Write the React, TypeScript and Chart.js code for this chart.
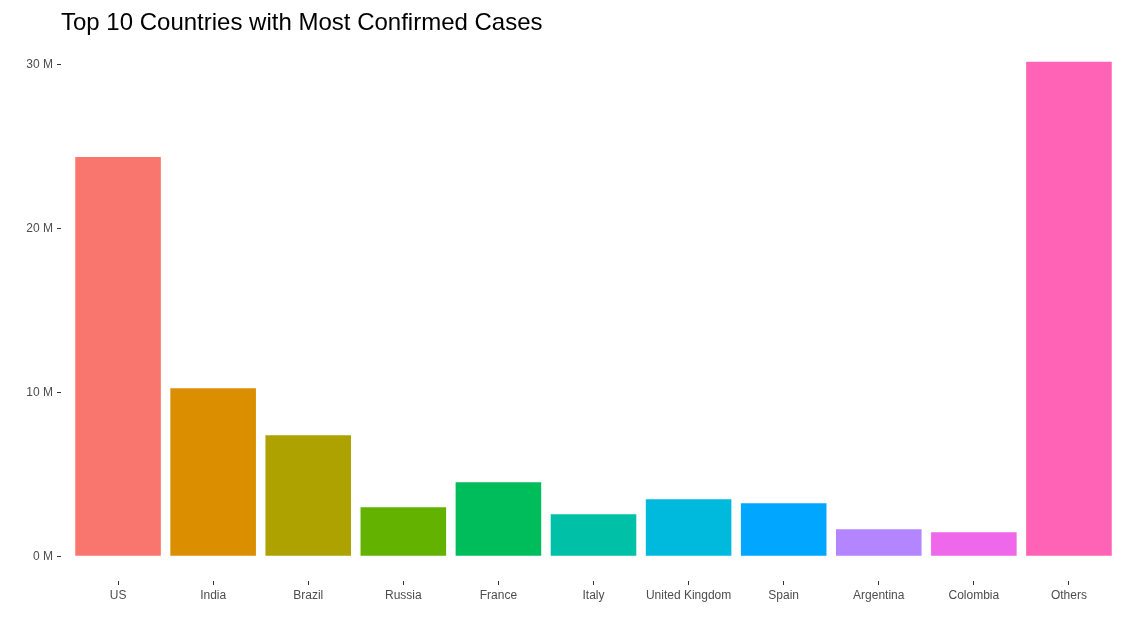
import React, { useEffect, useRef } from "react";
import { Chart, registerables } from "chart.js";

Chart.register(...registerables);

const categories = ["US", "India", "Brazil", "Russia", "France", "Italy", "United Kingdom", "Spain", "Argentina", "Colombia", "Others"];
const confirmed = [24370000, 10260000, 7390000, 2990000, 4520000, 2570000, 3480000, 3240000, 1650000, 1470000, 30180000];
const barColors = ["#F8766D", "#DB8E00", "#AEA200", "#64B200", "#00BD5C", "#00C1A7", "#00BADE", "#00A6FF", "#B385FF", "#EF67EB", "#FF63B6"];
const yTickValues = [0, 10000000, 20000000, 30000000];
const titleText = "Top 10 Countries with Most Confirmed Cases";

export default function App() {
  const ref = useRef<HTMLCanvasElement>(null);

  useEffect(() => {
    if (!ref.current) return;
    const dataMax = Math.max(...confirmed);
    const chart = new Chart(ref.current, {
      type: "bar",
      data: {
        datasets: [
          {
            data: confirmed.map((v, i) => ({ x: i, y: v })),
            backgroundColor: barColors,
            borderWidth: 0,
            categoryPercentage: 1,
            barPercentage: 0.9,
          },
        ],
      },
      options: {
        animation: false,
        responsive: false,
        devicePixelRatio: 1,
        layout: { padding: { top: 37, right: 8, left: 0, bottom: 0 } },
        plugins: { legend: { display: false }, tooltip: { enabled: false }, title: { display: false } },
        scales: {
          x: {
            type: "linear",
            offset: false,
            min: -0.6,
            max: categories.length - 1 + 0.6,
            afterBuildTicks: (scale: any) => {
              scale.ticks = categories.map((_, i) => ({ value: i }));
            },
            afterFit: (scale: any) => {
              scale.height = 47;
            },
            grid: { display: true, offset: false, drawOnChartArea: false, drawTicks: true, tickLength: 4, tickColor: "#333333", tickWidth: 1 },
            border: { display: false },
            ticks: {
              autoSkip: false,
              maxRotation: 0,
              padding: 3,
              color: "#4D4D4D",
              font: { family: "'Liberation Sans', Arial, sans-serif", size: 12 },
              callback: (v: any) => categories[v as number],
            },
          },
          y: {
            type: "linear",
            min: -0.05 * dataMax,
            max: 1.05 * dataMax,
            afterBuildTicks: (scale: any) => {
              scale.ticks = yTickValues.map((v) => ({ value: v }));
            },
            afterFit: (scale: any) => {
              scale.width = 61;
            },
            grid: { display: true, drawOnChartArea: false, drawTicks: true, tickLength: 4, tickColor: "#333333", tickWidth: 1 },
            border: { display: false },
            ticks: {
              padding: 4,
              color: "#4D4D4D",
              font: { family: "'Liberation Sans', Arial, sans-serif", size: 12 },
              callback: (v: any) => `${(v as number) / 1000000} M`,
            },
          },
        },
      },
    });
    return () => chart.destroy();
  }, []);

  return (
    <div style={{ position: "fixed", left: 0, top: 0, width: 1134, height: 628, background: "#ffffff" }}>
      <canvas ref={ref} width={1134} height={628} style={{ position: "absolute", left: 0, top: 0, width: 1134, height: 628 }} />
      <div
        style={{
          position: "absolute",
          left: 61,
          top: 10,
          fontFamily: "'Liberation Sans', Arial, sans-serif",
          fontSize: 24,
          lineHeight: "24px",
          color: "#000000",
          whiteSpace: "nowrap",
        }}
      >
        {titleText}
      </div>
    </div>
  );
}
